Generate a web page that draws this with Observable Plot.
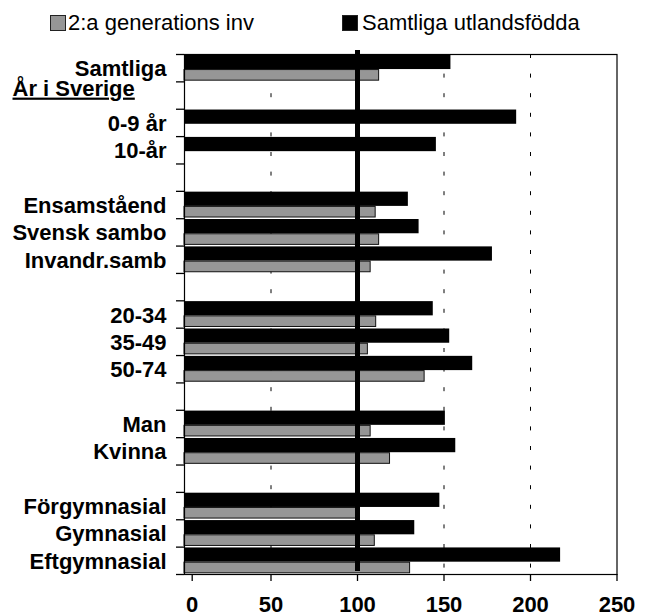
<!DOCTYPE html>
<html>
<head>
<meta charset="utf-8">
<script src="https://cdn.jsdelivr.net/npm/d3@7"></script>
<script src="https://cdn.jsdelivr.net/npm/@observablehq/plot@0.6"></script>
<style>
  html, body { margin: 0; padding: 0; background: #fff; }
  body { width: 650px; font-family: "Liberation Sans", Arial, sans-serif; }
  #legend { position: relative; height: 40px; width: 650px; }
  #legend .sw { position: absolute; top: 15px; width: 14px; height: 14px; border: 1px solid #222; }
  #legend .lb { position: absolute; top: 12px; font-size: 22px; line-height: 22px; color: #000; white-space: nowrap; }
</style>
</head>
<body>
<div id="legend"></div>
<div id="chart"></div>
<script>
// ---- data ----
const rows = ["Samtliga", "År i Sverige", "0-9 år", "10-år", "", "Ensamståend", "Svensk sambo", "Invandr.samb", "", "20-34", "35-49", "50-74", "", "Man", "Kvinna", "", "Förgymnasial", "Gymnasial", "Eftgymnasial"];
const headerRows = ["År i Sverige"];
const samtligaUtlandsfodda = [154, null, 192, 145.6, null, 129.4, 135.6, 178, null, 143.8, 153.3, 166.6, null, 150.8, 156.8, null, 147.6, 133.1, 217.4];
const andraGenerationen = [112.5, null, null, null, null, 110.5, 112.5, 107.6, null, 110.8, 106, 138.8, null, 107.6, 118.8, null, 100, 110, 130.4];
const seriesNames = ["2:a generations inv", "Samtliga utlandsfödda"];
const seriesColors = ["#969696", "#000000"];
const xTicks = [0, 50, 100, 150, 200, 250];
const gridValues = [50, 150, 200];
const referenceValue = 100;

// ---- legend ----
const legend = document.getElementById("legend");
const legendPos = [[50, 68], [342, 362]];
seriesNames.forEach((name, k) => {
  const sw = document.createElement("div");
  sw.className = "sw";
  sw.style.left = legendPos[k][0] + "px";
  sw.style.background = seriesColors[k];
  legend.appendChild(sw);
  const lb = document.createElement("div");
  lb.className = "lb";
  lb.style.left = legendPos[k][1] + "px";
  lb.textContent = name;
  legend.appendChild(lb);
});

// ---- tables ----
const blackData = rows.map((r, i) => ({row: r, i, value: samtligaUtlandsfodda[i]})).filter(d => d.value != null);
const grayData = rows.map((r, i) => ({row: r, i, value: andraGenerationen[i]})).filter(d => d.value != null);
const labelData = rows.map((r, i) => ({row: r, i})).filter(d => d.row !== "" && !headerRows.includes(d.row));
const headerData = rows.map((r, i) => ({row: r, i})).filter(d => headerRows.includes(d.row));
const split = 0.55;

const plot = Plot.plot({
  width: 650,
  height: 576,
  marginLeft: 184,
  marginRight: 33.5,
  marginTop: 14,
  marginBottom: 42,
  style: {fontFamily: "'Liberation Sans', Arial, sans-serif", fontSize: "22px", color: "#000", background: "#fff"},
  x: {domain: [0, 250], label: null},
  y: {domain: [0, rows.length], reverse: true, label: null},
  marks: [
    Plot.ruleX(gridValues, {stroke: "#000", strokeWidth: 1, strokeDasharray: "4,15.6"}),
    Plot.rect(blackData, {x1: 0, x2: "value", y1: "i", y2: d => d.i + split, fill: seriesColors[1], insetTop: 0.8}),
    Plot.rect(grayData, {x1: 0, x2: "value", y1: d => d.i + split, y2: d => d.i + 1, fill: seriesColors[0], stroke: "#111", strokeWidth: 1, insetTop: 0.5, insetBottom: 1.2}),
    Plot.frame({stroke: "#000", strokeWidth: 1.2}),
    Plot.ruleX([referenceValue], {stroke: "#000", strokeWidth: 5, insetTop: -4, insetBottom: 3}),
    Plot.axisY({ticks: d3.range(rows.length + 1), tickSize: 8, tickFormat: () => "", label: null, strokeWidth: 1.3}),
    Plot.axisX({ticks: xTicks.filter(t => t !== 0), tickSize: 7, tickPadding: 15, fontWeight: "bold", label: null, strokeWidth: 1.3}),
    Plot.axisX({ticks: [0], tickSize: 7, tickPadding: 15, fontWeight: "bold", label: null, dx: 7.7, strokeWidth: 1.3}),
    Plot.text(labelData, {x: 0, y: d => d.i + 0.5, text: "row", dx: -18, dy: 1, textAnchor: "end", fontWeight: "bold", fontSize: 22, fill: "#000"}),
    Plot.text(headerData, {x: 0, y: d => d.i + 0.5, text: "row", dx: -172, dy: -7, textAnchor: "start", fontWeight: "bold", fontSize: 22, fill: "#000"})
  ]
});
document.getElementById("chart").appendChild(plot);

// underline the header label
d3.select(plot).selectAll("text").filter(function() { return headerRows.includes(this.textContent); })
  .style("text-decoration", "underline")
  .style("text-decoration-thickness", "2.5px")
  .style("text-underline-offset", "3px");
</script>
</body>
</html>
